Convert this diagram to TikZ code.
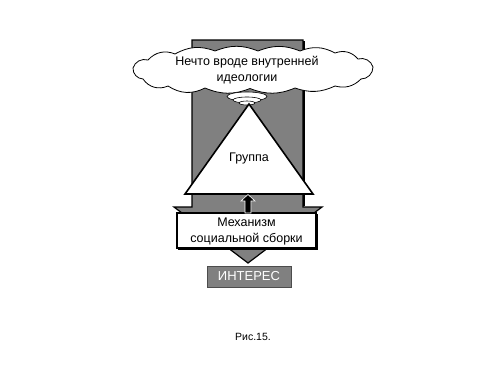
\documentclass[tikz,border=0pt]{standalone}
\usepackage{fontspec}
\setmainfont{Liberation Sans}
\definecolor{arrgray}{RGB}{128,128,128}
\tikzset{
  grayarrow/.style={fill=arrgray,draw=black,line width=1.2pt,line join=miter},
  whitebox/.style={fill=white,draw=black,line width=1.2pt},
  lbl/.style={font=\fontsize{12.5}{16}\selectfont,align=center,inner sep=0pt},
  cloudline/.style={fill=white,draw=black,line width=0.8pt},
  puff/.style={fill=white,draw=black,line width=0.6pt}
}
\begin{document}
\begin{tikzpicture}[x=1pt,y=-1pt]
\useasboundingbox (0,0) rectangle (500,375);
\fill[white] (0,0) rectangle (500,375);
% big gray arrow
\draw[grayarrow] (192,40) -- (303,40) -- (303,207) -- (322,207) -- (248,263) -- (174,207) -- (192,207) -- cycle;
\draw[black,line width=2.4pt] (304,41) -- (304,206);
% cloud
\draw[cloudline] (133,68) to[bend left=45] (148,60) to[bend left=35] (175,54)
  to[bend left=25] (215,51) to[bend left=22] (258,51) to[bend left=22] (300,51)
  to[bend left=25] (335,53) to[bend left=35] (358,59) to[bend left=45] (373,67)
  to[bend left=45] (361,79) to[bend left=30] (335,86) to[bend left=22] (295,88)
  to[bend left=22] (250,88.5) to[bend left=22] (205,88) to[bend left=30] (168,86)
  to[bend left=40] (143,79) to[bend left=45] cycle;
\node[lbl] (ideatext) at (247,70) {Нечто вроде внутренней\\идеологии};
% small cloud
\draw[puff] (247,96.5) ellipse [x radius=20,y radius=4.5];
\draw[puff] (247,100) ellipse [x radius=14,y radius=3];
\draw[puff] (247,103) ellipse [x radius=8,y radius=2];
% triangle
\coordinate (apex) at (249,104);
\coordinate (bl) at (185,194);
\coordinate (br) at (313,194);
\draw[fill=white,draw=black,line width=1.6pt,line join=miter] (apex) -- (br) -- (bl) -- cycle;
\node[lbl] (grp) at (249,158) {Группа};
% mechanism box
\node[whitebox,minimum width=139pt,minimum height=35pt,inner sep=0pt] (mech) at (246.5,230.5) {};
\draw[black,line width=2.2pt] (317,214) -- (317,249) -- (178,249);
\node[lbl] (mechtext) at (246.5,231) {Механизм\\социальной сборки};
% small black arrow
\draw[fill=black,draw=white,line width=0.6pt] (245,213) -- (245,201) -- (241,201) -- (248,194.5) -- (255,201) -- (251,201) -- (251,213) -- cycle;
% interest box
\node[fill=arrgray,draw=black!70,line width=0.8pt,minimum width=84pt,minimum height=21pt,inner sep=0pt,text=white,font=\fontsize{13}{14}\selectfont] (interest) at (249,276.5) {ИНТЕРЕС};
% caption
\node[font=\fontsize{10.5}{12}\selectfont,inner sep=0pt] (cap) at (253,337) {Рис.15.};
\end{tikzpicture}
\end{document}
